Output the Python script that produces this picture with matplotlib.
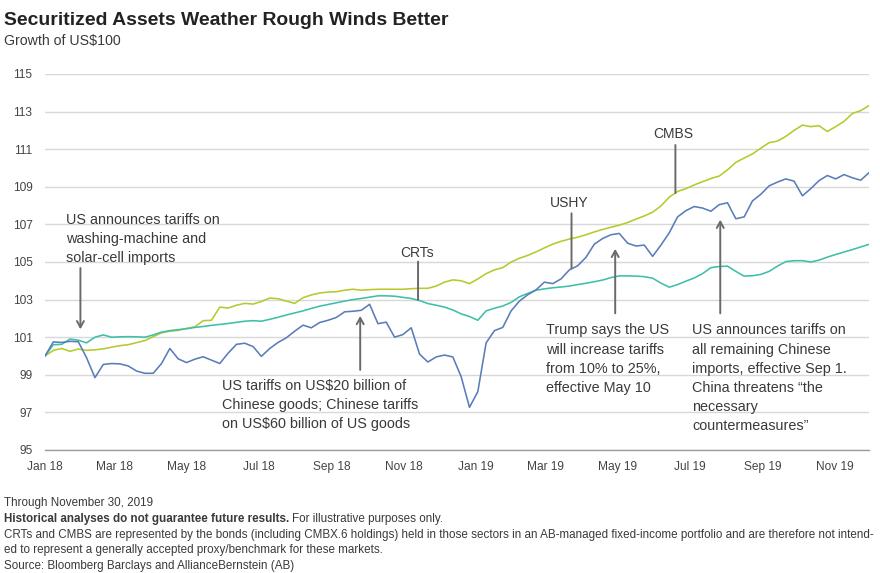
import numpy as np
import pandas as pd
import matplotlib
matplotlib.use("Agg")
import matplotlib.pyplot as plt
import matplotlib.dates as mdates

plt.rcParams['font.family'] = ['Liberation Sans', 'DejaVu Sans']

# roughly weekly readings, Jan 1 2018 .. Nov 30 2019
start_date = '2018-01-01'
end_date = '2019-11-30'
n_points = 100

ushy = [100.0, 100.75, 100.72, 100.78, 100.76, 99.9, 98.85, 99.55, 99.6, 99.58,
        99.47, 99.2, 99.08, 99.08, 99.6, 100.4, 99.85, 99.65, 99.83, 99.96,
        99.78, 99.6, 100.15, 100.62, 100.68, 100.5, 99.98, 100.4, 100.72, 100.97,
        101.32, 101.64, 101.5, 101.78, 101.9, 102.05, 102.35, 102.38, 102.43, 102.75,
        101.72, 101.8, 101.0, 101.14, 101.5, 100.1, 99.68, 99.95, 100.05, 99.95,
        98.9, 97.27, 98.1, 100.7, 101.35, 101.52, 102.4, 102.92, 103.26, 103.52,
        103.93, 103.85, 104.1, 104.58, 104.8, 105.25, 105.95, 106.25, 106.45, 106.52,
        106.0, 105.85, 105.9, 105.3, 105.9, 106.55, 107.4, 107.73, 107.95, 107.87,
        107.7, 108.05, 108.15, 107.3, 107.4, 108.25, 108.6, 109.05, 109.25, 109.42,
        109.3, 108.52, 108.9, 109.33, 109.6, 109.42, 109.65, 109.48, 109.35, 109.75]

cmbs = [100.0, 100.3, 100.4, 100.25, 100.37, 100.3, 100.33, 100.38, 100.47, 100.55,
        100.6, 100.71, 100.82, 101.03, 101.23, 101.32, 101.36, 101.47, 101.55, 101.88,
        101.9, 102.6, 102.55, 102.7, 102.8, 102.76, 102.9, 103.08, 103.05, 102.92,
        102.8, 103.1, 103.25, 103.35, 103.4, 103.42, 103.5, 103.55, 103.5, 103.53,
        103.55, 103.55, 103.55, 103.55, 103.58, 103.6, 103.6, 103.72, 103.93, 104.05,
        104.0, 103.85, 104.1, 104.38, 104.58, 104.7, 105.0, 105.2, 105.35, 105.54,
        105.75, 105.95, 106.1, 106.22, 106.32, 106.45, 106.6, 106.73, 106.85, 106.96,
        107.1, 107.28, 107.45, 107.65, 107.98, 108.45, 108.75, 108.9, 109.1, 109.27,
        109.44, 109.57, 109.9, 110.3, 110.53, 110.75, 111.05, 111.35, 111.43, 111.68,
        112.0, 112.28, 112.2, 112.25, 111.94, 112.2, 112.48, 112.9, 113.05, 113.32]

crts = [100.0, 100.6, 100.62, 100.9, 100.84, 100.7, 101.0, 101.12, 101.0, 101.02,
        101.03, 101.02, 101.0, 101.12, 101.27, 101.35, 101.4, 101.45, 101.52, 101.57,
        101.63, 101.68, 101.73, 101.79, 101.85, 101.88, 101.85, 101.95, 102.06, 102.18,
        102.29, 102.4, 102.53, 102.65, 102.74, 102.83, 102.92, 103.0, 103.06, 103.13,
        103.2, 103.2, 103.18, 103.12, 103.06, 102.95, 102.79, 102.7, 102.6, 102.45,
        102.24, 102.1, 101.9, 102.4, 102.54, 102.66, 102.85, 103.15, 103.33, 103.5,
        103.57, 103.63, 103.67, 103.72, 103.8, 103.87, 103.95, 104.04, 104.17, 104.26,
        104.26, 104.25, 104.22, 104.14, 103.88, 103.66, 103.8, 103.98, 104.15, 104.38,
        104.7, 104.76, 104.78, 104.5, 104.25, 104.27, 104.34, 104.5, 104.78, 105.02,
        105.07, 105.07, 105.0, 105.1, 105.26, 105.4, 105.53, 105.66, 105.8, 105.94]

y_ticks = list(range(95, 116, 2))
tick_months = [1, 3, 5, 7, 9, 11]

c_cmbs = '#b7c92b'
c_crts = '#3ebfa8'
c_ushy = '#5a7db9'
c_text = '#3a3a3a'
c_arrow = '#6a6a6a'

dates = pd.date_range(start_date, end_date, periods=n_points)

fig = plt.figure(figsize=(8.8, 5.73), dpi=100)
ax = fig.add_axes([45 / 880, 1 - 450 / 573, 824 / 880, 376 / 573])
renderer = fig.canvas.get_renderer()


def fit_width(txt, target_px):
    # scale a text so that it spans target_px pixels
    w = txt.get_window_extent(renderer).width
    txt.set_fontsize(txt.get_fontsize() * target_px / w)
    return txt.get_fontsize()


def note(x, y, lines, size=10.4, step=13.8):
    # one annotate per line, fixed baseline step in points
    for i, line in enumerate(lines):
        ax.annotate(line, xy=(x, y), xytext=(0, -i * step), textcoords='offset points',
                    fontsize=size, color=c_text, ha='left', va='baseline')


ax.plot(dates, cmbs, color=c_cmbs, lw=1.15)
ax.plot(dates, crts, color=c_crts, lw=1.15)
ax.plot(dates, ushy, color=c_ushy, lw=1.15)

ax.set_xlim(pd.Timestamp(start_date), pd.Timestamp(end_date))
ax.set_ylim(95, 115)
ax.set_yticks(y_ticks)
ax.xaxis.set_major_locator(mdates.MonthLocator(bymonth=tick_months))
ax.xaxis.set_major_formatter(mdates.DateFormatter('%b %y'))
ax.grid(axis='y', color='#d8d8d8', lw=1.0)
ax.set_axisbelow(True)
for s in ['top', 'right', 'left']:
    ax.spines[s].set_visible(False)
ax.spines['bottom'].set_color('#9a9a9a')
ax.spines['bottom'].set_linewidth(1.0)
ax.tick_params(axis='both', length=0, labelsize=8.6, labelcolor='#444444')
ax.tick_params(axis='y', pad=9)
ax.tick_params(axis='x', pad=8)

arrow = dict(arrowstyle='->,head_length=0.45,head_width=0.25', color=c_arrow, lw=1.4,
             shrinkA=0, shrinkB=0)
stem = dict(arrowstyle='-', color=c_arrow, lw=1.4, shrinkA=0, shrinkB=0)
T = pd.Timestamp

# event arrows
ax.annotate('', xy=(T('2018-01-31'), 101.42), xytext=(T('2018-01-31'), 104.68), arrowprops=arrow)
ax.annotate('', xy=(T('2018-09-25'), 102.13), xytext=(T('2018-09-25'), 99.26), arrowprops=arrow)
ax.annotate('', xy=(T('2019-04-29'), 105.7), xytext=(T('2019-04-29'), 102.27), arrowprops=arrow)
ax.annotate('', xy=(T('2019-07-27'), 107.25), xytext=(T('2019-07-27'), 102.27), arrowprops=arrow)

# series label stems
ax.annotate('', xy=(T('2018-11-13'), 102.98), xytext=(T('2018-11-13'), 105.02), arrowprops=stem)
ax.annotate('', xy=(T('2019-03-23'), 104.66), xytext=(T('2019-03-23'), 107.59), arrowprops=stem)
ax.annotate('', xy=(T('2019-06-19'), 108.67), xytext=(T('2019-06-19'), 111.22), arrowprops=stem)

lab = dict(fontsize=10, color=c_text, ha='center', va='baseline')
ax.text(T('2018-11-12'), 105.28, 'CRTs', **lab)
ax.text(T('2019-03-21'), 107.95, 'USHY', **lab)
ax.text(T('2019-06-17'), 111.58, 'CMBS', **lab)

note(T('2018-01-19'), 107.02, ['US announces tariffs on', 'washing-machine and', 'solar-cell imports'])
note(T('2018-05-31'), 98.19, ['US tariffs on US$20 billion of', 'Chinese goods; Chinese tariffs',
                              'on US$60 billion of US goods'])
note(T('2019-03-01'), 101.15, ['Trump says the US', 'will increase tariffs', 'from 10% to 25%,',
                              'effective May 10'])
note(T('2019-07-03'), 101.15, ['US announces tariffs on', 'all remaining Chinese',
                              'imports, effective Sep 1.', 'China threatens \u201cthe', 'necessary',
                              'countermeasures\u201d'])

# title block
title = fig.text(4 / 880, 1 - 25 / 573, 'Securitized Assets Weather Rough Winds Better',
                 fontsize=13, fontweight='bold', color='#222222', va='baseline')
fit_width(title, 444)
fig.text(4 / 880, 1 - 45 / 573, 'Growth of US$100', fontsize=10.2, color=c_text, va='baseline')

# footer
long_line = fig.text(4 / 880, 1 - 535 / 573,
                     'CRTs and CMBS are represented by the bonds (including CMBX.6 holdings) held in those sectors '
                     'in an AB-managed fixed-income portfolio and are therefore not intend-',
                     fontsize=8, color=c_text, va='center', ha='left')
fsize = fit_width(long_line, 871)
foot = dict(fontsize=fsize, color=c_text, va='center', ha='left')
fig.text(4 / 880, 1 - 503 / 573, 'Through November 30, 2019', **foot)
bold = fig.text(4 / 880, 1 - 519 / 573, 'Historical analyses do not guarantee future results.',
                fontweight='bold', **foot)
bb = bold.get_window_extent(renderer)
fig.text((bb.x1 + 3) / 880, 1 - 519 / 573, 'For illustrative purposes only.', **foot)
fig.text(4 / 880, 1 - 550 / 573, 'ed to represent a generally accepted proxy/benchmark for these markets.', **foot)
fig.text(4 / 880, 1 - 566 / 573, 'Source: Bloomberg Barclays and AllianceBernstein (AB)', **foot)

fig.savefig('out.png', dpi=100)
plt.close(fig)
